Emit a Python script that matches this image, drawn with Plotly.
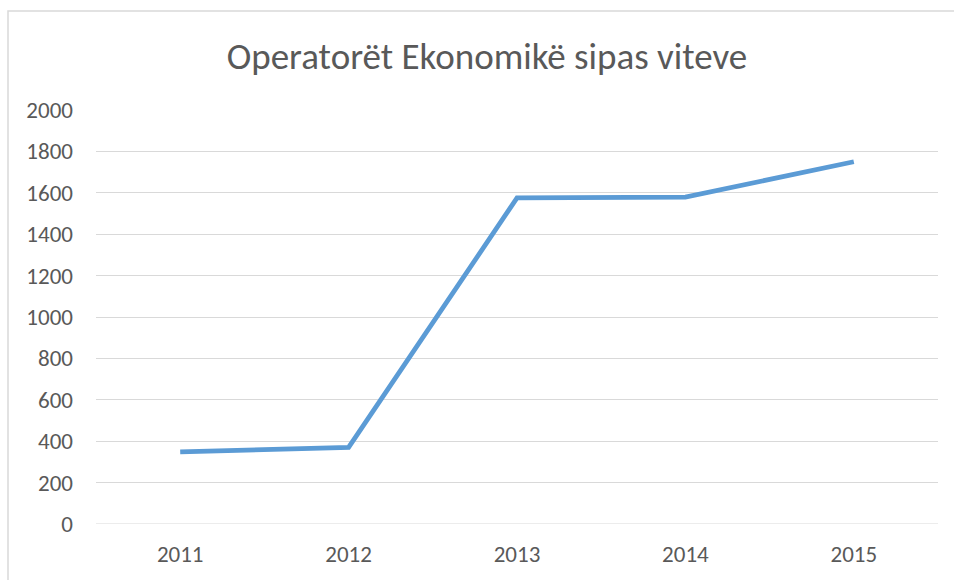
import plotly.graph_objects as go

years = ["2011", "2012", "2013", "2014", "2015"]
values = [348, 370, 1575, 1579, 1750]
y_ticks = [0, 200, 400, 600, 800, 1000, 1200, 1400, 1600, 1800, 2000]
title_text = "Operatorët Ekonomikë sipas viteve"

W, H = 954, 580
ml, mr, mt, mb = 96, 16, 110, 56
pw, ph = W - ml - mr, H - mt - mb

fig = go.Figure()
fig.add_trace(go.Scatter(
    x=years, y=values, mode="lines",
    line=dict(color="#5B9BD5", width=4.75),
    hoverinfo="x+y",
))

font_family = "Carlito, Calibri, 'Open Sans', 'Noto Sans', sans-serif"

fig.update_layout(
    width=W, height=H,
    margin=dict(l=ml, r=mr, t=mt, b=mb),
    paper_bgcolor="white", plot_bgcolor="white",
    showlegend=False,
    font=dict(family=font_family, color="#595959", size=23),
    title=dict(text=title_text, x=487 / W, xanchor="center",
               y=1 - 56 / H, yanchor="middle",
               font=dict(size=37, color="#595959", family=font_family)),
    xaxis=dict(type="category", showgrid=False, showline=False, zeroline=False,
               ticks="", tickfont=dict(size=23, color="#595959"),
               ticklabelstandoff=14, range=[-0.5, 4.5]),
    yaxis=dict(range=[0, 2000], tickvals=y_ticks, showgrid=True,
               gridcolor="#D9D9D9", gridwidth=1, zeroline=False, showline=False,
               ticks="", tickfont=dict(size=23, color="#595959"),
               ticklabelstandoff=22),
    shapes=[
        dict(type="line", xref="x domain", yref="y", x0=0, x1=1, y0=0, y1=0,
             line=dict(color="#D9D9D9", width=1), layer="below"),
        dict(type="rect", xref="paper", yref="paper",
             x0=(8 - ml) / pw, x1=(W + 20 - ml) / pw,
             y0=(-(H + 20 - (H - mb))) / ph, y1=((H - mb) - 11) / ph,
             line=dict(color="#D9D9D9", width=1.5), fillcolor="rgba(0,0,0,0)",
             layer="below"),
    ],
)

fig.write_html("out.html", config={"displayModeBar": False},
               post_script="document.body.style.margin='0';document.body.style.overflow='hidden';")
